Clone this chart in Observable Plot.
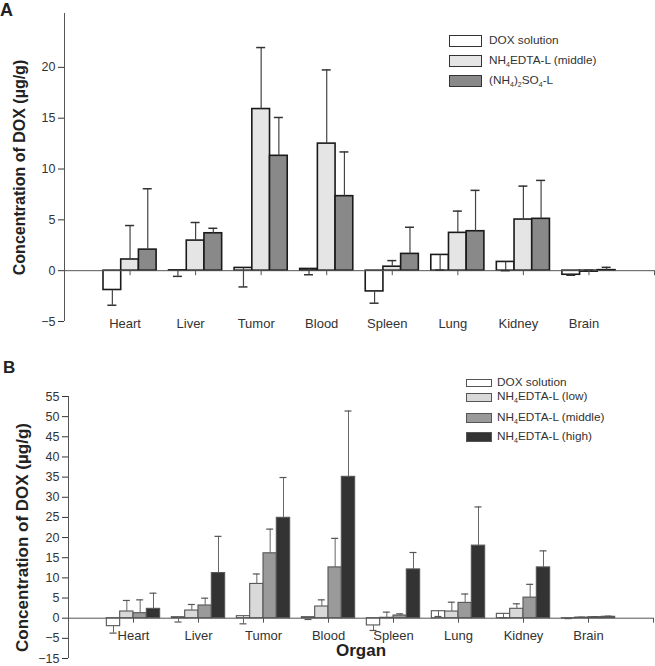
<!DOCTYPE html>
<html><head><meta charset="utf-8">
<script src="https://cdn.jsdelivr.net/npm/d3@7"></script>
<script src="https://cdn.jsdelivr.net/npm/@observablehq/plot@0.6"></script>
<style>
body{margin:0;background:#fff;font-family:"Liberation Sans",Arial,sans-serif;}
#root{position:relative;width:655px;height:666px;overflow:hidden;background:#fff;}
.panel{position:absolute;left:0;}
.letter{position:absolute;font-weight:bold;color:#222;line-height:1;}
.row{position:absolute;display:flex;align-items:center;white-space:nowrap;font-size:11.8px;color:#333;line-height:1;}
.sw{box-sizing:border-box;flex:none;}
sub{font-size:7px;vertical-align:-3px;line-height:0;}
</style></head><body><div id="root"></div>
<script>
// ---------- data ----------
const organs = ["Heart","Liver","Tumor","Blood","Spleen","Lung","Kidney","Brain"];

// Panel A
const seriesA = ["DOX solution","NH<sub>4</sub>EDTA-L (middle)","(NH<sub>4</sub>)<sub>2</sub>SO<sub>4</sub>-L"];
const doxA       = [-1.9, 0.03, 0.27, 0.17, -2.04, 1.55, 0.86, -0.4];
const doxA_end   = [-3.4, -0.56, -1.6, -0.4, -3.2, 0.07, 0.0, -0.45];
const midA       = [1.1, 2.96, 15.9, 12.5, 0.39, 3.72, 5.03, -0.1];
const midA_end   = [4.44, 4.74, 21.95, 19.75, 0.99, 5.86, 8.32, 0.05];
const so4A       = [2.07, 3.68, 11.3, 7.33, 1.65, 3.88, 5.1, 0.05];
const so4A_end   = [8.06, 4.17, 15.07, 11.68, 4.27, 7.9, 8.88, 0.33];
const yTicksA = [-5, 0, 5, 10, 15, 20];

// Panel B
const seriesB = ["DOX solution","NH<sub>4</sub>EDTA-L (low)","NH<sub>4</sub>EDTA-L (middle)","NH<sub>4</sub>EDTA-L (high)"];
const doxB       = [-1.98, 0.25, 0.5, 0.25, -1.8, 1.73, 1.08, -0.05];
const doxB_end   = [-3.7, -0.95, -1.4, -0.32, -3.05, 0.42, 0.1, -0.1];
const lowB       = [1.66, 1.9, 8.5, 2.9, 0.1, 1.65, 2.33, 0.15];
const lowB_end   = [4.4, 3.4, 10.97, 4.55, 1.5, 3.97, 3.57, 0.25];
const midB       = [1.24, 3.15, 16.1, 12.6, 0.66, 3.8, 5.1, 0.25];
const midB_end   = [4.55, 4.96, 22.1, 19.8, 1.08, 6.0, 8.4, 0.4];
const highB      = [2.32, 11.2, 24.9, 35.07, 12.1, 18.0, 12.6, 0.35];
const highB_end  = [6.2, 20.3, 34.9, 51.4, 16.3, 27.6, 16.7, 0.5];
const yTickValuesB = [-10, -5, 0, 5, 10, 15, 20, 25, 30, 35, 40, 45, 50, 55];
const yTickLabelsB = ["\u221215", "\u22125", "0", "5", "10", "15", "20", "25", "30", "35", "40", "45", "50", "55"];

// ---------- helpers ----------
function buildRows(valueLists, endLists, w) {
  const n = valueLists.length;
  const rows = [];
  valueLists.forEach((vals, s) => {
    vals.forEach((v, i) => {
      const pos = i + 1;
      const x1 = pos + (s - n / 2) * w;
      rows.push({organ: organs[i], s, pos, value: v, end: endLists[s][i], x1, x2: x1 + w, cx: x1 + w / 2});
    });
  });
  return rows;
}
const tickPositions = organs.map((d, i) => i + 1).concat([organs.length + 1]);
const FONT = "'Liberation Sans', Arial, sans-serif";
const fmtMinus = d => d < 0 ? "\u2212" + Math.abs(d) : String(d);

const root = document.getElementById("root");

// ---------- Panel A ----------
const rowsA = buildRows([doxA, midA, so4A], [doxA_end, midA_end, so4A_end], 0.27);
const fillsA = ["#ffffff", "#e4e5e4", "#888988"];
const plotA = Plot.plot({
  width: 655, height: 340,
  marginLeft: 64, marginRight: 1, marginTop: 13, marginBottom: 19,
  style: {fontFamily: FONT, fontSize: "12.5px", color: "#333", background: "transparent"},
  x: {domain: [0, 9], axis: null},
  y: {domain: [-5, 25.3], ticks: yTicksA, tickSize: 6, tickPadding: 3, label: null, tickFormat: fmtMinus},
  marks: [
    Plot.ruleX([0], {stroke: "#555"}),
    ...fillsA.map((f, s) => Plot.rect(rowsA.filter(r => r.s === s), {x1: "x1", x2: "x2", y1: () => 0, y2: "value", fill: f, stroke: "#1a1a1a", strokeWidth: 1.6})),
    Plot.ruleY([0], {stroke: "#555"}),
    Plot.ruleX(rowsA, {x: "cx", y1: "value", y2: "end", stroke: "#444", strokeWidth: 1.2}),
    Plot.ruleY(rowsA, {y: "end", x1: "cx", x2: "cx", insetLeft: -4.5, insetRight: -4.5, stroke: "#333", strokeWidth: 1.5}),
    Plot.ruleX(tickPositions, {x: d => d, y1: () => 0, y2: () => 0, insetBottom: -5, stroke: "#555"}),
    Plot.text(organs, {x: (d, i) => i + 1, frameAnchor: "bottom", dy: 6, dx: -5, fontSize: 13, fill: "#333"}),
    Plot.text(["Concentration of DOX (\u00b5g/g)"], {frameAnchor: "left", textAnchor: "middle", rotate: -90, dx: -45, fontSize: 16, fontWeight: "bold", fill: "#222"})
  ]
});
plotA.classList.add("panel");
plotA.style.top = "0px";
root.appendChild(plotA);

// ---------- Panel B ----------
const rowsB = buildRows([doxB, lowB, midB, highB], [doxB_end, lowB_end, midB_end, highB_end], 0.205);
const fillsB = ["#ffffff", "#d9d9d9", "#9a9a9a", "#333333"];
const plotB = Plot.plot({
  width: 655, height: 326,
  marginLeft: 68, marginRight: 2, marginTop: 56, marginBottom: 8,
  style: {fontFamily: FONT, fontSize: "12.5px", color: "#333", background: "transparent"},
  x: {domain: [0, 9], axis: null},
  y: {domain: [-10, 55], ticks: yTickValuesB, tickSize: 6, tickPadding: 3, label: null,
      tickFormat: d => yTickLabelsB[yTickValuesB.indexOf(d)]},
  marks: [
    Plot.ruleX([0], {stroke: "#555"}),
    ...fillsB.map((f, s) => Plot.rect(rowsB.filter(r => r.s === s), {x1: "x1", x2: "x2", y1: () => 0, y2: "value", fill: f, stroke: "#555", strokeWidth: 1.1})),
    Plot.ruleY([0], {stroke: "#555"}),
    Plot.ruleX(rowsB, {x: "cx", y1: "value", y2: "end", stroke: "#666", strokeWidth: 1}),
    Plot.ruleY(rowsB, {y: "end", x1: "cx", x2: "cx", insetLeft: -3.5, insetRight: -3.5, stroke: "#555", strokeWidth: 1.2}),
    Plot.ruleX(tickPositions, {x: d => d, y1: () => 0, y2: () => 0, insetBottom: -5, stroke: "#555"}),
    Plot.text(organs, {x: (d, i) => i + 1, frameAnchor: "bottom", dy: -19, fontSize: 13, fill: "#333"}),
    Plot.text(["Concentration of DOX (\u00b5g/g)"], {frameAnchor: "left", textAnchor: "middle", rotate: -90, dx: -46, dy: 10, fontSize: 17, fontWeight: "bold", fill: "#222"}),
    Plot.text(["Organ"], {frameAnchor: "bottom", dy: -3, fontSize: 17, fontWeight: "bold", fill: "#222"})
  ]
});
plotB.classList.add("panel");
plotB.style.top = "340px";
root.appendChild(plotB);

// ---------- panel letters ----------
function letter(t, left, top, size) {
  const d = document.createElement("div");
  d.className = "letter"; d.textContent = t;
  d.style.left = left + "px"; d.style.top = top + "px"; d.style.fontSize = size + "px";
  root.appendChild(d);
}
letter("A", 0, 1, 18);
letter("B", 3, 359, 17);

// ---------- legends ----------
function legend(names, fills, strokes, left, centers, sw, sh, textLeft) {
  names.forEach((name, i) => {
    const row = document.createElement("div");
    row.className = "row";
    row.style.left = left + "px";
    row.style.top = (centers[i] - 8) + "px";
    row.style.height = "16px";
    const box = document.createElement("div");
    box.className = "sw";
    box.style.width = sw + "px"; box.style.height = sh[i] + "px";
    box.style.background = fills[i]; box.style.border = "1.3px solid " + strokes;
    box.style.marginRight = (textLeft - left - sw) + "px";
    const lab = document.createElement("span");
    lab.innerHTML = name;
    row.appendChild(box); row.appendChild(lab);
    root.appendChild(row);
  });
}
legend(seriesA, fillsA, "#333", 449, [41, 61, 81], 33, [12, 12, 12], 489);
legend(seriesB, fillsB, "#555", 466, [383, 397, 417.5, 437], 26, [8, 9, 10, 10], 497);
</script></body></html>
